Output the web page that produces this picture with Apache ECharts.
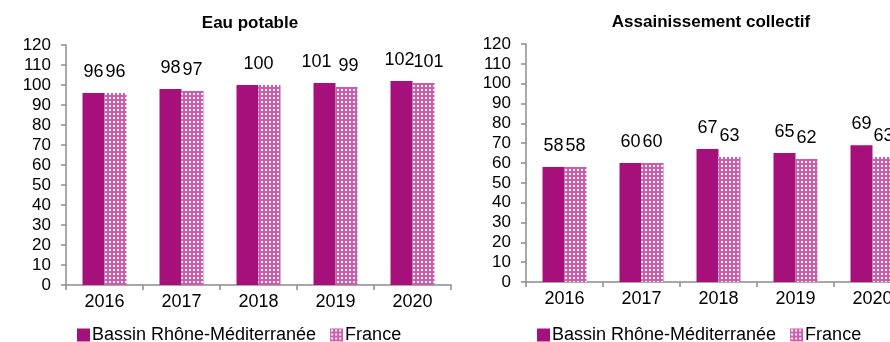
<!DOCTYPE html>
<html>
<head>
<meta charset="utf-8">
<script src="https://cdn.jsdelivr.net/npm/echarts@6/dist/echarts.min.js"></script>
<style>
  html, body { margin: 0; padding: 0; background: #fff; }
  #chart { width: 890px; height: 342px; }
</style>
</head>
<body>
<div id="chart"></div>
<script>
// données
const years = ['2016', '2017', '2018', '2019', '2020']
const eauBassin = [96, 98, 100, 101, 102]
const eauFrance = [96, 97, 100, 99, 101]
const assBassin = [58, 60, 67, 65, 69]
const assFrance = [58, 60, 63, 62, 63]
const yTicks = { min: 0, max: 120, interval: 10 }

const font = 'Liberation Sans, Arial, sans-serif'
const violet = '#a5107a'
const axisGrey = '#8c8c8c'

// motif à damier pour "France"
function makePattern () {
  const c = document.createElement('canvas')
  c.width = 4
  c.height = 4
  const ctx = c.getContext('2d')
  ctx.fillStyle = '#cf5aae'
  ctx.fillRect(0, 0, 4, 4)
  ctx.fillStyle = '#ffffff'
  ctx.fillRect(1, 1, 2, 2)
  return { image: c, repeat: 'repeat' }
}
const pattern = makePattern()

const chartInstance = echarts.init(document.getElementById('chart'))

function xAxisOpt (gridIndex) {
  return {
    type: 'category',
    gridIndex: gridIndex,
    data: years,
    axisLine: { lineStyle: { color: axisGrey, width: 1.5 } },
    axisTick: { show: true, length: 5, lineStyle: { color: axisGrey, width: 1.5 } },
    axisLabel: { color: '#000', fontSize: 18, fontFamily: font, margin: 8 }
  }
}

function yAxisOpt (gridIndex) {
  return {
    type: 'value',
    gridIndex: gridIndex,
    min: yTicks.min,
    max: yTicks.max,
    interval: yTicks.interval,
    splitLine: { show: false },
    axisLine: { show: true, lineStyle: { color: axisGrey, width: 1.5 } },
    axisTick: { show: true, length: 5, lineStyle: { color: axisGrey, width: 1.5 } },
    axisLabel: { color: '#000', fontSize: 17, fontFamily: font, margin: 15 }
  }
}

const labelStyle = {
  show: true,
  position: 'top',
  distance: 12,
  color: '#000',
  fontSize: 18,
  fontFamily: font
}

// placement manuel de quelques étiquettes (comme dans l'original)
function withLabels (values, shifts) {
  return values.map((v, i) => {
    const s = shifts[i]
    if (s === null) return { value: v, label: { show: false } }
    if (s) return { value: v, label: { offset: [s, 0] } }
    return v
  })
}

function barSeries (name, values, color, idx) {
  return {
    name: name,
    type: 'bar',
    xAxisIndex: idx,
    yAxisIndex: idx,
    data: values,
    barWidth: 22,
    barGap: '0%',
    itemStyle: { color: color },
    label: labelStyle
  }
}

const legendBase = {
  top: 321,
  itemWidth: 13,
  itemHeight: 13,
  itemGap: 14,
  icon: 'rect',
  data: ['Bassin Rhône-Méditerranée', 'France'],
  textStyle: { fontSize: 18, color: '#000', fontFamily: font, padding: [0, 0, 0, -3] }
}

const option = {
  animation: false,
  backgroundColor: '#fff',
  title: [
    {
      text: 'Eau potable',
      left: 245,
      top: 10,
      textAlign: 'center',
      textStyle: { fontSize: 17, fontWeight: 'bold', color: '#000', fontFamily: font }
    },
    {
      text: 'Assainissement collectif',
      left: 706,
      top: 9,
      textAlign: 'center',
      textStyle: { fontSize: 17, fontWeight: 'bold', color: '#000', fontFamily: font }
    }
  ],
  legend: [
    Object.assign({ left: 72 }, legendBase),
    Object.assign({ left: 532 }, legendBase)
  ],
  grid: [
    { left: 66, width: 385, top: 45, bottom: 57, outerBoundsMode: 'none' },
    // le graphique de droite déborde du cadre, comme dans l'original
    { left: 526, width: 385, top: 44, bottom: 60, outerBoundsMode: 'none' }
  ],
  xAxis: [xAxisOpt(0), xAxisOpt(1)],
  yAxis: [yAxisOpt(0), yAxisOpt(1)],
  series: [
    barSeries('Bassin Rhône-Méditerranée', withLabels(eauBassin, [0, 0, 11, -8, -2]), violet, 0),
    barSeries('France', withLabels(eauFrance, [0, 0, null, 2, 5]), pattern, 0),
    barSeries('Bassin Rhône-Méditerranée', assBassin, violet, 1),
    barSeries('France', assFrance, pattern, 1)
  ]
}

chartInstance.setOption(option)
</script>
</body>
</html>
